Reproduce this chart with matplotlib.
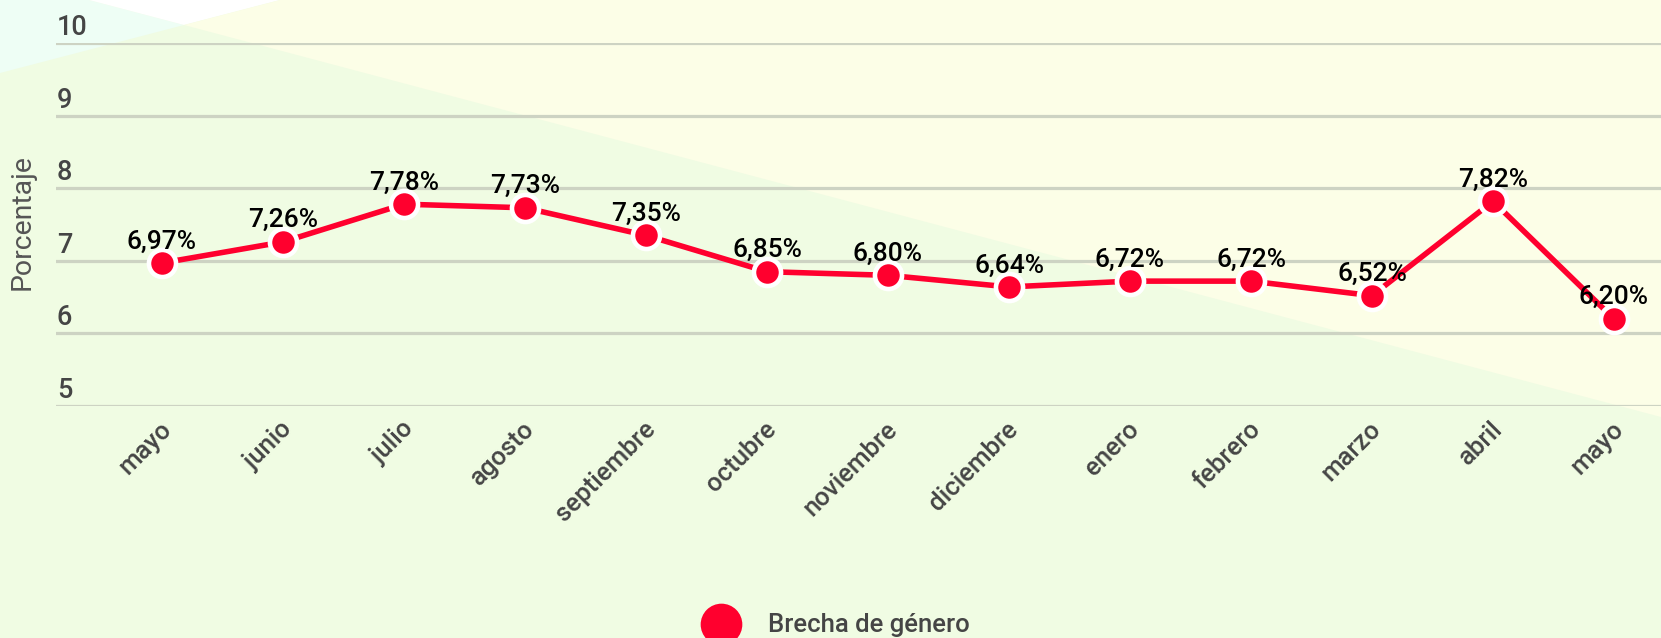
import matplotlib.pyplot as plt
from matplotlib.patches import Polygon
from matplotlib.lines import Line2D
from matplotlib.transforms import ScaledTranslation

plt.rcParams['font.family'] = ['Roboto', 'DejaVu Sans']

# Monthly gender gap values (percent)
months = ['mayo', 'junio', 'julio', 'agosto', 'septiembre', 'octubre',
          'noviembre', 'diciembre', 'enero', 'febrero', 'marzo', 'abril',
          'mayo']
gap = [6.97, 7.26, 7.78, 7.73, 7.35, 6.85, 6.80, 6.64, 6.72, 6.72, 6.52,
       7.82, 6.20]
labels = ['6,97%', '7,26%', '7,78%', '7,73%', '7,35%', '6,85%', '6,80%',
          '6,64%', '6,72%', '6,72%', '6,52%', '7,82%', '6,20%']
y_ticks = [5, 6, 7, 8, 9, 10]
series_name = 'Brecha de género'

W, H = 1661, 638
red = '#FF002E'
gray_txt = '#454545'

fig = plt.figure(figsize=(W / 100, H / 100), dpi=100)
fig.patch.set_facecolor('#F0FCE3')


def px(points):
    # pixel coords (y down) -> figure fraction
    return [(x / W, 1 - y / H) for x, y in points]


# Background shapes
bg_shapes = [
    ([(0, 0), (89, 0), (184, 25), (0, 73)], '#EEFEF5'),
    ([(89, 0), (280, 0), (184, 25)], '#FFFFFF'),
    ([(184, 25), (280, 0), (W, 0), (W, 417)], '#FCFEE7'),
]
for pts, col in bg_shapes:
    fig.add_artist(Polygon(px(pts), closed=True, facecolor=col,
                           edgecolor='none', transform=fig.transFigure,
                           zorder=0))

ax_left, ax_top, ax_bottom = 56, 43, 406
ax = fig.add_axes([ax_left / W, 1 - ax_bottom / H, (W - ax_left) / W,
                   (ax_bottom - ax_top) / H])
ax.patch.set_alpha(0)
for s in ax.spines.values():
    s.set_visible(False)

x = list(range(len(months)))
ax.set_xlim(-(162 - ax_left) / 121, (W - 162) / 121)
ax.set_ylim(5, 10)

for v in y_ticks:
    ax.axhline(v, color='#CDD3C3', lw=2.3, zorder=1)
    ax.annotate(str(v), (0, v), xycoords=ax.get_yaxis_transform(),
                xytext=(0.5, 1.5), textcoords='offset points',
                ha='left', va='bottom', fontsize=19.5, color=gray_txt,
                fontweight='medium')
ax.set_yticks([])

ax.plot(x, gap, color=red, lw=4, marker='o', ms=19.5,
        markerfacecolor=red, markeredgecolor='white', markeredgewidth=3.3,
        zorder=3, clip_on=False)

for xi, v, lab in zip(x, gap, labels):
    ax.annotate(lab, (xi, v), xytext=(0, 10.5), textcoords='offset points',
                ha='center', va='baseline', fontsize=19, color='black',
                fontweight='medium', zorder=4)

ax.set_xticks(x)
ax.set_xticklabels(months, rotation=45, ha='right', va='top',
                   rotation_mode='anchor', fontsize=18.5, color=gray_txt,
                   fontweight='medium')
ax.tick_params(axis='x', length=0, pad=8)
for lbl in ax.get_xticklabels():
    lbl.set_transform(lbl.get_transform() +
                      ScaledTranslation(-0.03, 0, fig.dpi_scale_trans))

fig.text(22 / W, 1 - 222 / H, 'Porcentaje', rotation=90, ha='center',
         va='center', fontsize=20.5, color='#555555')

# Legend
fig.add_artist(Line2D([721 / W], [1 - 624 / H], marker='o', ms=30,
                      color=red, markeredgewidth=0,
                      transform=fig.transFigure))
fig.text(768 / W, 1 - 632 / H, series_name, ha='left', va='baseline',
         fontsize=18.5, color=gray_txt, fontweight='medium')

fig.savefig('out.png', dpi=100, facecolor=fig.get_facecolor())
